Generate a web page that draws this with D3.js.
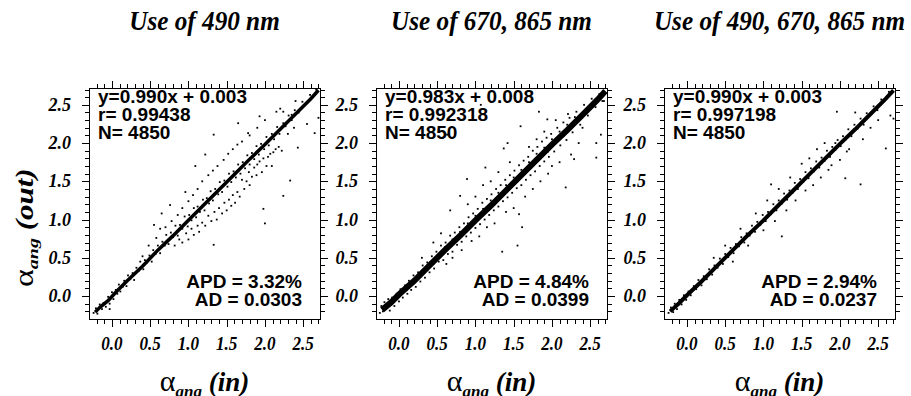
<!DOCTYPE html>
<html><head><meta charset="utf-8">
<script src="https://cdn.jsdelivr.net/npm/d3@7"></script>
<style>body{margin:0;background:#fff}</style>
</head><body>
<script>
// panel texts
var titles = ["Use of 490 nm", "Use of 670, 865 nm", "Use of 490, 670, 865 nm"];
var fitLines = ["y=0.990x + 0.003", "y=0.983x + 0.008", "y=0.990x + 0.003"];
var rValues = ["0.99438", "0.992318", "0.997198"];
var nValues = [4850, 4850, 4850];
var apdValues = ["3.32%", "4.84%", "2.94%"];
var adValues = ["0.0303", "0.0399", "0.0237"];
var tickValues = [0, 0.5, 1.0, 1.5, 2.0, 2.5];

// dense centre of each cloud, read along the band
var core490 = [[-0.22,-0.21],[-0.15,-0.14],[-0.05,-0.06],[0.05,0.05],[0.2,0.2],[0.4,0.39],[0.6,0.6],[0.8,0.79],[1.0,0.99],[1.2,1.19],[1.4,1.39],[1.6,1.59],[1.8,1.79],[2.0,1.98],[2.2,2.18],[2.4,2.38],[2.6,2.58],[2.7,2.69]];
var core670 = [[-0.22,-0.18],[-0.1,-0.08],[0.0,0.02],[0.2,0.2],[0.4,0.4],[0.6,0.6],[0.8,0.79],[1.0,0.99],[1.2,1.18],[1.4,1.38],[1.6,1.58],[1.8,1.78],[2.0,1.98],[2.2,2.17],[2.4,2.37],[2.6,2.57],[2.7,2.68]];
var coreAll = [[-0.22,-0.2],[-0.1,-0.09],[0.0,0.01],[0.2,0.2],[0.4,0.4],[0.6,0.6],[0.8,0.8],[1.0,0.99],[1.2,1.19],[1.4,1.39],[1.6,1.59],[1.8,1.79],[2.0,1.99],[2.2,2.18],[2.4,2.38],[2.6,2.58],[2.7,2.69]];

// single points around the band
var dots490 = [[-0.24,-0.22],[-0.21,-0.16],[-0.19,-0.23],[-0.16,-0.11],[-0.13,-0.17],[-0.11,-0.09],[-0.08,-0.14],[-0.05,-0.01],[-0.03,-0.1],[-0.03,-0.17],[0.0,0.05],[0.02,-0.04],[0.05,0.08],[0.07,0.03],[0.09,0.15],[0.11,0.06],[0.14,0.12],[0.16,0.2],[0.19,0.13],[0.21,0.27],[0.24,0.22],[0.27,0.3],[0.29,0.21],[0.32,0.37],[0.35,0.33],[0.37,0.45],[0.41,0.35],[0.43,0.47],[0.46,0.44],[0.49,0.53],[0.52,0.45],[0.54,0.6],[0.57,0.55],[0.6,0.66],[0.63,0.56],[0.66,0.71],[0.69,0.66],[0.71,0.8],[0.74,0.68],[0.77,0.83],[0.8,0.77],[0.83,0.92],[0.86,0.79],[0.89,0.93],[0.92,0.88],[0.95,1.04],[0.99,0.91],[1.01,1.06],[1.04,0.99],[1.07,1.15],[1.1,1.03],[1.12,1.17],[1.15,1.1],[1.19,1.26],[1.21,1.12],[1.24,1.28],[1.27,1.21],[1.29,1.37],[1.32,1.25],[1.35,1.4],[1.39,1.33],[1.41,1.49],[1.44,1.36],[1.47,1.51],[1.51,1.43],[1.53,1.6],[1.56,1.49],[1.59,1.63],[1.62,1.55],[1.65,1.72],[1.68,1.6],[1.71,1.75],[1.74,1.67],[1.77,1.84],[1.8,1.72],[1.83,1.87],[1.86,1.79],[1.89,1.96],[1.92,1.85],[1.95,1.99],[1.99,1.92],[2.02,2.08],[2.05,1.97],[2.09,2.12],[2.12,2.05],[2.16,2.21],[2.19,2.12],[2.24,2.26],[2.27,2.22],[2.31,2.36],[2.35,2.3],[2.39,2.43],[2.44,2.4],[2.49,2.54],[2.54,2.51],[2.59,2.63],[2.63,2.61],[2.67,2.7],
  [0.82,0.66],[0.88,0.74],[0.92,0.7],[0.97,0.82],[1.0,0.74],[1.04,0.88],[1.07,0.8],[1.12,0.92],[1.14,0.84],[1.18,0.96],[1.22,0.92],[1.26,1.05],[1.3,0.98],[1.34,1.1],[1.37,1.0],[1.4,1.15],[1.44,1.08],[1.47,1.22],[1.5,1.12],[1.53,1.26],[1.56,1.18],[1.58,1.32],[1.61,1.22],[1.64,1.36],[1.67,1.3],[1.7,1.52],[1.73,1.4],[1.76,1.5],[1.79,1.62],[1.8,1.45],[1.83,1.56],[1.86,1.68],[1.89,1.58],[1.9,1.72],[1.93,1.76],[1.96,1.62],[1.98,1.8],[2.02,1.7],[2.04,1.82],[2.07,1.86],[2.09,1.7],[2.11,1.88],[2.14,1.92],[2.18,1.95],[2.22,1.9],[2.3,2.12],[2.38,2.2],
  [0.4,0.52],[0.48,0.66],[0.58,0.76],[0.63,0.88],[0.7,0.9],[0.78,0.98],[0.86,1.06],[0.92,1.15],[1.0,1.24],[1.06,1.32],[1.12,1.4],[1.18,1.5],[1.26,1.58],[1.32,1.64],[1.38,1.7],[1.46,1.78],[1.52,1.86],[1.58,1.92],[1.64,1.98],[1.7,2.02],[1.8,2.1],[1.9,2.2],[2.0,2.3],[2.2,2.45],[2.4,2.55],
  [0.55,0.93],[0.65,1.08],[0.76,1.19],[0.96,1.36],[1.09,1.7],[1.22,1.85],[1.33,2.11],[1.65,2.26],[1.78,2.13],[1.93,2.35],[2.15,2.41],[2.24,2.41],[2.35,2.37],[1.33,0.67],[1.98,1.14],[2.0,0.95],[2.24,1.31],[2.33,1.51],[2.43,1.94],[2.65,2.13],[2.7,2.33],[2.55,2.25]];

var dots670 = [[-0.25,-0.22],[-0.23,-0.13],[-0.21,-0.2],[-0.19,-0.08],[-0.17,-0.16],[-0.14,-0.04],[-0.12,-0.19],[-0.09,-0.02],[-0.06,-0.13],[-0.03,0.03],[0.0,-0.07],[0.02,0.09],[0.05,-0.02],[0.08,0.14],[0.11,0.03],[0.13,0.2],[0.16,0.08],[0.19,0.27],[0.22,0.12],[0.25,0.31],[0.28,0.19],[0.31,0.4],[0.34,0.24],[0.37,0.44],[0.4,0.31],[0.43,0.52],[0.46,0.36],[0.49,0.58],[0.52,0.45],[0.55,0.66],[0.58,0.47],[0.61,0.7],[0.64,0.55],[0.67,0.79],[0.7,0.58],[0.73,0.83],[0.76,0.67],[0.79,0.9],[0.82,0.71],[0.85,0.95],[0.88,0.78],[0.91,1.03],[0.94,0.83],[0.97,1.08],[1.0,0.89],[1.03,1.14],[1.06,0.94],[1.09,1.22],[1.12,1.0],[1.15,1.27],[1.18,1.06],[1.21,1.33],[1.24,1.12],[1.27,1.4],[1.3,1.17],[1.33,1.45],[1.36,1.24],[1.39,1.52],[1.42,1.29],[1.45,1.58],[1.48,1.35],[1.51,1.64],[1.54,1.41],[1.57,1.71],[1.6,1.45],[1.63,1.77],[1.66,1.52],[1.69,1.82],[1.72,1.58],[1.75,1.9],[1.78,1.63],[1.81,1.95],[1.84,1.7],[1.87,2.02],[1.9,1.76],[1.93,2.07],[1.96,1.82],[1.99,2.12],[2.03,1.89],[2.07,2.2],[2.11,1.97],[2.15,2.27],[2.19,2.04],[2.23,2.33],[2.27,2.14],[2.32,2.41],[2.37,2.24],[2.42,2.5],[2.47,2.36],[2.52,2.58],[2.57,2.47],[2.62,2.64],[2.66,2.55],
  [-0.2,-0.15],[-0.15,-0.13],[-0.1,-0.11],[-0.05,-0.03],[0.04,0.06],[0.1,0.08],[0.14,0.17],[0.2,0.18],[0.26,0.25],[0.3,0.33],[0.35,0.34],[0.41,0.44],[0.45,0.42],[0.5,0.53],[0.56,0.54],[0.6,0.64],[0.65,0.63],[0.7,0.74],[0.75,0.72],[0.8,0.84],[0.86,0.83],[0.9,0.95],[0.95,0.92],[1.0,1.05],[1.05,1.02],[1.1,1.14],[1.15,1.12],[1.2,1.25],[1.25,1.2],[1.3,1.35],[1.35,1.31],[1.4,1.45],[1.45,1.4],[1.5,1.55],[1.55,1.5],[1.6,1.65],[1.65,1.6],[1.7,1.75],[1.75,1.7],[1.8,1.86],[1.85,1.8],[1.9,1.94],[1.95,1.89],[2.0,2.05],[2.05,2.0],[2.1,2.15],[2.15,2.09],[2.2,2.24],[2.25,2.19],[2.3,2.34],[2.35,2.3],[2.45,2.43],[2.55,2.52],[2.62,2.58],
  [0.3,0.5],[0.45,0.7],[0.55,0.82],[0.62,0.42],[0.67,1.12],[0.7,0.5],[0.8,1.31],[0.82,0.6],[0.89,1.53],[0.9,1.2],[0.95,0.72],[1.0,1.3],[1.05,0.78],[1.07,2.5],[1.1,1.45],[1.13,1.68],[1.15,0.9],[1.2,1.5],[1.25,0.95],[1.3,1.62],[1.35,0.58],[1.37,1.93],[1.4,1.1],[1.42,2.0],[1.45,1.75],[1.5,1.15],[1.55,0.66],[1.57,1.07],[1.59,2.22],[1.61,0.9],[1.65,1.3],[1.7,1.95],[1.75,1.4],[1.8,2.05],[1.83,2.41],[1.85,1.5],[1.9,2.15],[1.94,2.31],[1.95,1.6],[2.0,1.7],[2.05,2.3],[2.1,1.75],[2.18,1.42],[2.21,2.38],[2.25,1.85],[2.29,1.79],[2.35,2.0],[2.4,2.2],[2.5,2.45],[2.58,2.0],[2.58,1.81],[2.64,2.11],[2.68,2.55],[0.63,2.11]];

var dotsAll = [[-0.24,-0.22],[-0.21,-0.15],[-0.18,-0.21],[-0.16,-0.1],[-0.13,-0.17],[-0.1,-0.05],[-0.07,-0.11],[-0.04,0.01],[-0.01,-0.05],[0.02,0.06],[0.05,0.01],[0.09,0.13],[0.12,0.09],[0.15,0.21],[0.19,0.14],[0.22,0.26],[0.26,0.22],[0.29,0.35],[0.33,0.28],[0.36,0.4],[0.4,0.37],[0.43,0.49],[0.47,0.42],[0.5,0.55],[0.54,0.51],[0.57,0.63],[0.61,0.56],[0.64,0.68],[0.68,0.65],[0.71,0.77],[0.75,0.7],[0.78,0.82],[0.82,0.79],[0.85,0.92],[0.89,0.84],[0.92,0.97],[0.96,0.93],[0.99,1.06],[1.03,0.98],[1.06,1.1],[1.1,1.07],[1.13,1.2],[1.17,1.12],[1.2,1.25],[1.24,1.21],[1.27,1.34],[1.31,1.26],[1.34,1.38],[1.38,1.35],[1.41,1.48],[1.45,1.4],[1.48,1.53],[1.52,1.49],[1.55,1.62],[1.59,1.54],[1.62,1.67],[1.66,1.63],[1.69,1.76],[1.73,1.68],[1.76,1.81],[1.8,1.77],[1.83,1.9],[1.87,1.82],[1.9,1.95],[1.94,1.91],[1.97,2.04],[2.01,1.96],[2.04,2.09],[2.08,2.05],[2.11,2.18],[2.15,2.09],[2.19,2.24],[2.23,2.19],[2.27,2.32],[2.31,2.24],[2.35,2.39],[2.39,2.36],[2.44,2.48],[2.49,2.43],[2.54,2.57],[2.59,2.56],[2.64,2.67],
  [0.35,0.5],[0.5,0.66],[0.6,0.45],[0.7,0.88],[0.8,0.66],[0.9,1.08],[1.0,0.86],[1.05,1.25],[1.1,1.46],[1.15,0.98],[1.24,0.78],[1.2,1.4],[1.3,1.12],[1.35,1.55],[1.42,1.25],[1.5,1.73],[1.55,1.38],[1.6,1.8],[1.65,1.45],[1.7,1.92],[1.75,1.55],[1.8,2.0],[1.85,1.65],[1.89,1.71],[1.94,2.0],[1.96,2.41],[2.0,1.78],[2.07,1.54],[2.09,1.89],[2.12,1.92],[2.2,2.4],[2.27,1.46],[2.3,2.05],[2.4,2.2],[2.5,2.3],[2.6,1.93],[2.66,2.36],[2.7,2.32]];

var panels = [
  { core: core490, dots: dots490, band: 3.5 },
  { core: core670, dots: dots670, band: 6 },
  { core: coreAll, dots: dotsAll, band: 4 }
];

var width = 911, height = 396;
var size = 231, plotTop = 88;
var lefts = [89, 376, 664];
var serif = "'Liberation Serif', 'Times New Roman', serif";
var sans = "'Liberation Sans', Arial, sans-serif";

var svg = d3.select("body").append("svg")
  .attr("width", width)
  .attr("height", height);

var x = d3.scaleLinear().domain([-0.3, 2.72]).range([0, size]);
var y = d3.scaleLinear().domain([-0.3, 2.72]).range([size, 0]);
var minor = d3.range(-2, 28).map(function (d) { return d / 10; });

panels.forEach(function (p, i) {
  var g = svg.append("g").attr("transform", "translate(" + lefts[i] + "," + plotTop + ")");

  // title, slightly condensed like the original
  svg.append("text")
    .attr("transform", "translate(" + (lefts[i] + size / 2) + ",30) scale(0.9,1)")
    .attr("text-anchor", "middle")
    .style("font", "italic bold 28px " + serif)
    .text(titles[i]);

  g.append("clipPath").attr("id", "clip" + i)
    .append("rect").attr("width", size).attr("height", size);

  var plot = g.append("g").attr("clip-path", "url(#clip" + i + ")");

  // dense band
  plot.append("path")
    .datum(p.core)
    .attr("fill", "none")
    .attr("stroke", "#000")
    .attr("stroke-width", p.band)
    .attr("d", d3.line().x(function (d) { return x(d[0]); }).y(function (d) { return y(d[1]); }));

  plot.selectAll("rect.dot")
    .data(p.dots)
    .enter().append("rect")
    .attr("class", "dot")
    .attr("x", function (d) { return x(d[0]) - 0.9; })
    .attr("y", function (d) { return y(d[1]) - 0.9; })
    .attr("width", 1.8)
    .attr("height", 1.8)
    .attr("fill", "#000");

  // frame
  g.append("rect")
    .attr("x", 0.5).attr("y", 0.5)
    .attr("width", size).attr("height", size)
    .attr("fill", "none").attr("stroke", "#000").attr("stroke-width", 1);

  // ticks on all four sides, pointing out
  var ticks = g.append("g").attr("stroke", "#000").attr("stroke-width", 1);
  minor.forEach(function (v) {
    var major = tickValues.some(function (t) { return Math.abs(t - v) < 1e-6; });
    var len = major ? 7 : 4;
    var px = Math.round(x(v)) + 0.5, py = Math.round(y(v)) + 0.5;
    ticks.append("line").attr("x1", px).attr("x2", px).attr("y1", 0).attr("y2", -len);
    ticks.append("line").attr("x1", px).attr("x2", px).attr("y1", size + 1).attr("y2", size + 1 + len);
    ticks.append("line").attr("y1", py).attr("y2", py).attr("x1", 0).attr("x2", -len);
    ticks.append("line").attr("y1", py).attr("y2", py).attr("x1", size + 1).attr("x2", size + 1 + len);
  });

  // tick labels
  g.selectAll("text.ylab").data(tickValues).enter().append("text")
    .attr("class", "ylab")
    .attr("x", -18)
    .attr("y", function (d) { return y(d) + 6; })
    .attr("text-anchor", "end")
    .style("font", "italic bold 18px " + serif)
    .text(function (d) { return d3.format(".1f")(d); });

  g.selectAll("text.xlab").data(tickValues).enter().append("text")
    .attr("class", "xlab")
    .attr("transform", function (d) { return "translate(" + x(d) + "," + (size + 31) + ") scale(0.9,1)"; })
    .attr("text-anchor", "middle")
    .style("font", "italic bold 19px " + serif)
    .text(function (d) { return d3.format(".1f")(d); });

  // statistics
  var stats = [fitLines[i], "r= " + rValues[i], "N= " + nValues[i]];
  g.selectAll("text.stat").data(stats).enter().append("text")
    .attr("class", "stat")
    .attr("x", 9)
    .attr("y", function (d, k) { return 15 + k * 18; })
    .style("font", "bold 19px " + sans)
    .text(function (d) { return d; });

  var errs = ["APD = " + apdValues[i], "AD = " + adValues[i]];
  g.selectAll("text.err").data(errs).enter().append("text")
    .attr("class", "err")
    .attr("x", size - 18)
    .attr("y", function (d, k) { return 200 + k * 18; })
    .attr("text-anchor", "end")
    .style("font", "bold 19px " + sans)
    .text(function (d) { return d; });

  // x axis title
  var xt = svg.append("text")
    .attr("x", lefts[i] + size / 2)
    .attr("y", 391)
    .attr("text-anchor", "middle");
  xt.append("tspan").style("font", "30px " + serif).text("α");
  xt.append("tspan").attr("dy", 6).style("font", "italic bold 17px " + serif).text("ang");
  xt.append("tspan").attr("dy", -6).style("font", "italic bold 27px " + serif).text(" (in)");
});

// y axis title, first panel only, drawn upward from its start
var yt = svg.append("text")
  .attr("transform", "translate(33,287) scale(0.78,1) rotate(-90)")
  .attr("text-anchor", "start");
yt.append("tspan").style("font", "34px " + serif).text("α");
yt.append("tspan").attr("dy", 7).style("font", "italic bold 20px " + serif).text("ang");
yt.append("tspan").attr("dy", -7).style("font", "italic bold 31px " + serif).text(" (out)");
</script>
</body></html>
